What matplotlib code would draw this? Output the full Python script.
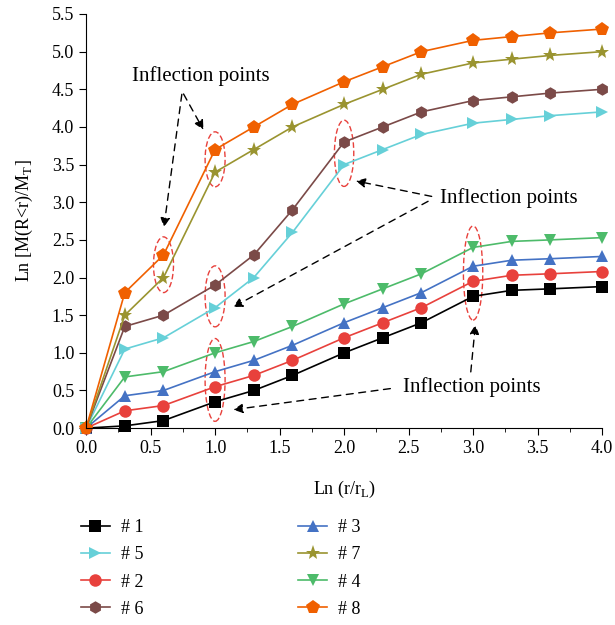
import matplotlib
matplotlib.use("Agg")
import matplotlib.pyplot as plt
from matplotlib.patches import Ellipse
from matplotlib.ticker import MultipleLocator, FormatStrFormatter

plt.rcParams['font.family'] = ['Liberation Serif', 'DejaVu Serif']
plt.rcParams['mathtext.fontset'] = 'custom'
plt.rcParams['mathtext.rm'] = 'Liberation Serif'

# x positions, Ln (r/rL)
x = [0.0, 0.3, 0.6, 1.0, 1.3, 1.6, 2.0, 2.3, 2.6, 3.0, 3.3, 3.6, 4.0]

s1 = [0, 0.03, 0.10, 0.35, 0.50, 0.70, 1.00, 1.20, 1.40, 1.75, 1.83, 1.85, 1.88]
s2 = [0, 0.23, 0.30, 0.55, 0.70, 0.90, 1.20, 1.40, 1.60, 1.95, 2.03, 2.05, 2.08]
s3 = [0, 0.43, 0.50, 0.75, 0.90, 1.10, 1.40, 1.60, 1.80, 2.15, 2.23, 2.25, 2.28]
s4 = [0, 0.68, 0.75, 1.00, 1.15, 1.35, 1.65, 1.85, 2.05, 2.40, 2.48, 2.50, 2.53]
s5 = [0, 1.05, 1.20, 1.60, 2.00, 2.60, 3.50, 3.70, 3.90, 4.05, 4.10, 4.15, 4.20]
s6 = [0, 1.35, 1.50, 1.90, 2.30, 2.90, 3.80, 4.00, 4.20, 4.35, 4.40, 4.45, 4.50]
s7 = [0, 1.50, 2.00, 3.40, 3.70, 4.00, 4.30, 4.50, 4.70, 4.85, 4.90, 4.95, 5.00]
s8 = [0, 1.80, 2.30, 3.70, 4.00, 4.30, 4.60, 4.80, 5.00, 5.15, 5.20, 5.25, 5.30]

labels = ['# 1', '# 2', '# 3', '# 4', '# 5', '# 6', '# 7', '# 8']
series = [s1, s2, s3, s4, s5, s6, s7, s8]
colors = ['#000000', '#E8413C', '#4472C4', '#4DBB6A', '#66D0D8', '#7B4A48', '#9A9430', '#F06000']
markers = ['s', 'o', '^', 'v', '>', 'h', '*', 'p']
msizes = [8, 9, 9, 9, 9, 9, 11, 10]

fig = plt.figure(figsize=(6.15, 6.25), dpi=100)
ax = fig.add_axes([0.14, 0.315, 0.839, 0.6626])

handles = {}
for lab, ys, c, m, ms in zip(labels, series, colors, markers, msizes):
    h, = ax.plot(x, ys, color=c, marker=m, markersize=ms, lw=1.2,
                 markeredgewidth=0, label=lab, clip_on=False)
    handles[lab] = h

ax.set_xlim(0, 4.0)
ax.set_ylim(0, 5.5)
ax.xaxis.set_major_locator(MultipleLocator(0.5))
ax.xaxis.set_minor_locator(MultipleLocator(0.25))
ax.yaxis.set_major_locator(MultipleLocator(0.5))
ax.xaxis.set_major_formatter(FormatStrFormatter('%.1f'))
ax.yaxis.set_major_formatter(FormatStrFormatter('%.1f'))
ax.spines['top'].set_visible(False)
ax.spines['right'].set_visible(False)
ax.tick_params(axis='both', which='major', direction='out', length=5, labelsize=13)
ax.tick_params(axis='both', which='minor', direction='out', length=3)
ax.set_xlabel('Ln (r/r$_\\mathrm{L}$)', fontsize=13, labelpad=16)
ax.set_ylabel('Ln [M(R<r)/M$_\\mathrm{T}$]', fontsize=13, labelpad=12)

# dashed ellipses around the inflection points
ellipses = [(0.6, 2.17, 0.155, 0.74), (1.0, 3.57, 0.155, 0.73), (1.0, 1.75, 0.155, 0.81),
            (1.0, 0.64, 0.155, 1.10), (2.0, 3.65, 0.15, 0.88), (3.0, 2.06, 0.15, 1.25)]
for ex, ey, ew, eh in ellipses:
    ax.add_patch(Ellipse((ex, ey), ew, eh, fill=False, ec='#E8413C', ls=(0, (4, 2)), lw=1.0))

arrow = dict(arrowstyle='-|>', ls=(0, (5, 4)), color='black', lw=1.0, mutation_scale=14)
note_fs = 15
ax.text(0.89, 4.68, 'Inflection points', fontsize=note_fs, ha='center', va='center')
ax.annotate('', xy=(0.6, 2.63), xytext=(0.745, 4.47), arrowprops=arrow)
ax.annotate('', xy=(0.92, 3.93), xytext=(0.745, 4.47), arrowprops=arrow)

ax.text(2.74, 3.06, 'Inflection points', fontsize=note_fs, ha='left', va='center')
ax.annotate('', xy=(2.07, 3.29), xytext=(2.7, 3.07), arrowprops=arrow)
ax.annotate('', xy=(1.12, 1.59), xytext=(2.67, 3.03), arrowprops=arrow)

ax.text(2.99, 0.545, 'Inflection points', fontsize=note_fs, ha='center', va='center')
ax.annotate('', xy=(3.02, 1.41), xytext=(2.98, 0.71), arrowprops=arrow)
ax.annotate('', xy=(1.12, 0.24), xytext=(2.38, 0.53), arrowprops=arrow)

order = ['# 1', '# 5', '# 2', '# 6', '# 3', '# 7', '# 4', '# 8']
fig.legend([handles[k] for k in order], order, ncol=2, loc='upper left',
           bbox_to_anchor=(0.105, 0.195), frameon=False, fontsize=13,
           handlelength=1.6, columnspacing=8.6, labelspacing=0.56, handletextpad=0.6)

fig.savefig('out.png', dpi=100)
